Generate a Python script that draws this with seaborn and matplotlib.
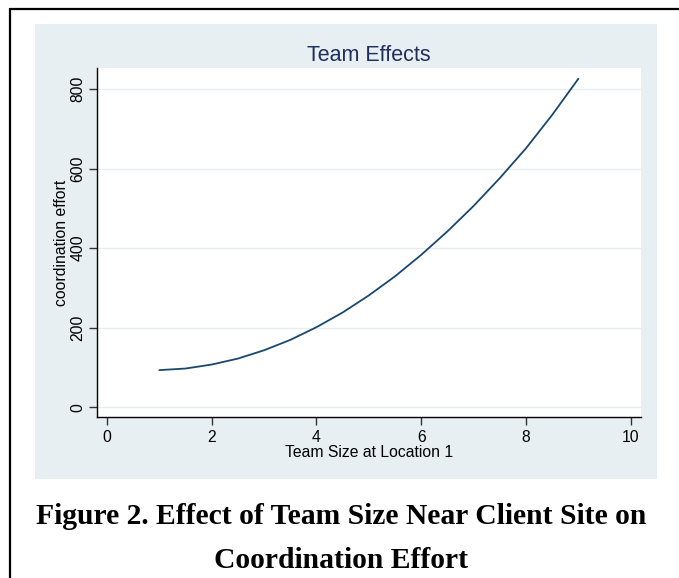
import matplotlib
matplotlib.use("Agg")
import matplotlib.pyplot as plt
import seaborn as sns
import pandas as pd
from matplotlib.patches import Rectangle
from matplotlib.lines import Line2D

# values
team_size = [1.0, 1.5, 2.0, 2.5, 3.0, 3.5, 4.0, 4.5, 5.0,
             5.5, 6.0, 6.5, 7.0, 7.5, 8.0, 8.5, 9.0]
effort = [93, 97, 107, 122, 143, 169, 201, 238, 281,
          329, 383, 442, 506, 576, 651, 735, 826]
x_ticks = [0, 2, 4, 6, 8, 10]
y_ticks = [0, 200, 400, 600, 800]

df = pd.DataFrame({"team_size": team_size, "effort": effort})

sns.set_theme(style="white")
plt.rcParams["font.family"] = ["Liberation Sans", "DejaVu Sans"]

fig = plt.figure(figsize=(6.79, 5.78), dpi=100)
fig.patch.set_facecolor("white")

# graph region background (Stata-like)
fig.patches.append(Rectangle((0.0515, 0.1713), 0.916, 0.787, transform=fig.transFigure,
                             facecolor="#e8eff2", edgecolor="none", zorder=-5))
# page frame (top and left edges)
fig.lines.append(Line2D([0.0147, 0.0147], [0.0, 0.9844], transform=fig.transFigure,
                        color="black", lw=1.6, zorder=-5))
fig.lines.append(Line2D([0.0147, 1.0], [0.9844, 0.9844], transform=fig.transFigure,
                        color="black", lw=1.6, zorder=-5))

ax = fig.add_axes([0.1429, 0.2785, 0.8015, 0.6039])
ax.set_zorder(1)
ax.set_facecolor("white")
sns.lineplot(data=df, x="team_size", y="effort", ax=ax, color="#1a476f", lw=1.3)

ax.set_xlim(-0.19, 10.2)
ax.set_ylim(-25, 853)
ax.set_xticks(x_ticks)
ax.set_yticks(y_ticks)
ax.yaxis.grid(True, color="#e6edf0", lw=1.0)
ax.xaxis.grid(False)
for s in ["top", "right"]:
    ax.spines[s].set_visible(False)
for s in ["left", "bottom"]:
    ax.spines[s].set_color("black")
    ax.spines[s].set_linewidth(1.0)

ax.tick_params(axis="both", direction="out", length=6, width=1, color="#333333",
               labelsize=11.3, labelcolor="black", bottom=True, left=True)
ax.tick_params(axis="x", pad=3.5)
ax.tick_params(axis="y", pad=2.5)
for lab in ax.get_yticklabels():
    lab.set_rotation(90)
    lab.set_va("center")

ax.set_xlabel("Team Size at Location 1", fontsize=11.3, labelpad=-0.5, color="black")
ax.set_ylabel("coordination effort", fontsize=11.3, labelpad=1, color="black")
ax.set_title("Team Effects", fontsize=15.5, color="#1f2f5c", pad=5)

fig.text(0.503, 1 - 517 / 578, "Figure 2. Effect of Team Size Near Client Site on",
         ha="center", va="center", fontsize=21.3, fontweight="bold", color="black",
         family=["Liberation Serif", "DejaVu Serif"])
fig.text(0.503, 1 - 560 / 578, "Coordination Effort",
         ha="center", va="center", fontsize=21.3, fontweight="bold", color="black",
         family=["Liberation Serif", "DejaVu Serif"])

fig.savefig("out.png", dpi=100)
